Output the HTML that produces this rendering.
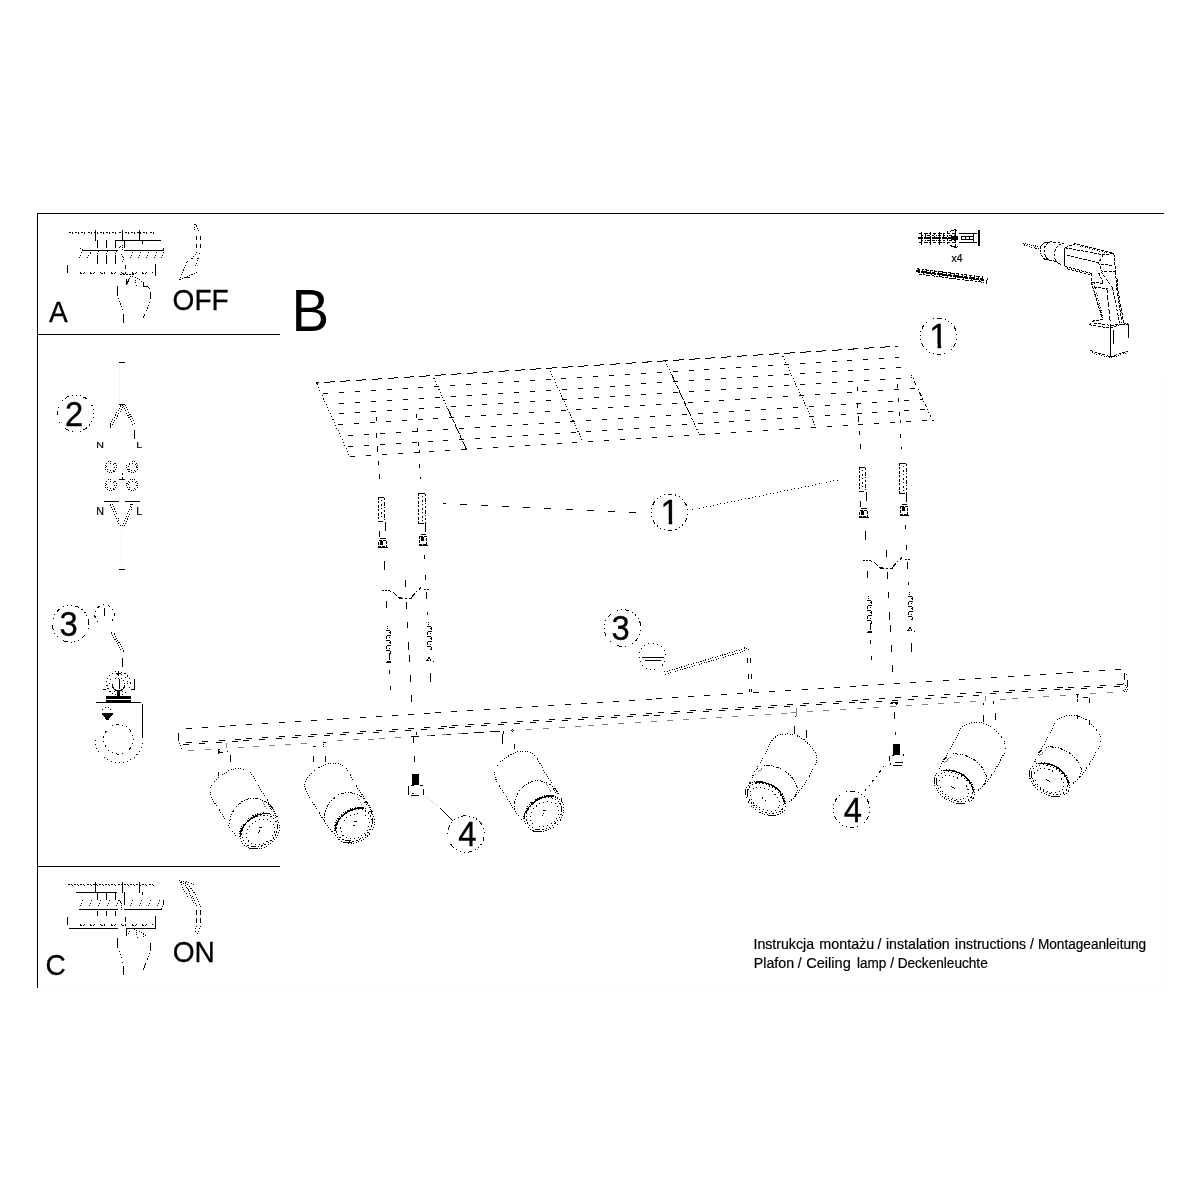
<!DOCTYPE html>
<html lang="pl">
<head>
<meta charset="utf-8">
<title>Instrukcja montażu</title>
<style>
html,body{margin:0;padding:0;background:#fff;}
body{width:1200px;height:1200px;overflow:hidden;position:relative;}
svg{position:absolute;left:0;top:0;display:block;will-change:transform;}
text{font-family:"Liberation Sans",sans-serif;fill:#000;stroke:none;}
.sm text,text.sm{stroke:#000;stroke-width:0.2;}
text.dg{stroke:#000;stroke-width:0.35;}
text.lb{stroke:#000;stroke-width:0.3;}
svg g{stroke:#000;stroke-width:1;fill:none;shape-rendering:crispEdges;}
.dt{stroke-dasharray:1 1.5;}
.dd{stroke-dasharray:1 2;}
.gr{stroke:#808080;}
.bk{fill:#000;stroke:none;}
.th{stroke-width:2;}
</style>
</head>
<body>
<svg width="1200" height="1200" viewBox="0 0 1200 1200">
<g id="frame">
<line x1="37" y1="213.5" x2="1164" y2="213.5"/>
<line x1="37.5" y1="213" x2="37.5" y2="988"/>
<line x1="37" y1="334.5" x2="280" y2="334.5"/>
<line x1="37" y1="866.5" x2="280" y2="866.5"/>
<line x1="1164.5" y1="375" x2="1164.5" y2="988" stroke="#fbfbfb"/>
<line x1="38" y1="987.5" x2="1164" y2="987.5" stroke="#fbfbfb"/>
</g>
<g id="labels">
<text transform="translate(48.93 321.7) scale(0.95 1)" font-size="29.6" class="lb">A</text>
<text transform="translate(172.56 310) scale(0.95 1)" font-size="29.6" class="lb">OFF</text>
<text transform="translate(291.48 330.6) scale(0.96 1)" font-size="58.8">B</text>
<text transform="translate(45.56 974.7) scale(0.95 1)" font-size="29.6" class="lb">C</text>
<text transform="translate(172.7 962) scale(0.95 1)" font-size="29.6" class="lb">ON</text>
<text transform="translate(753.47 948.75) scale(1.02 1)" font-size="13.9" class="sm">Instrukcja</text>
<text transform="translate(819.32 948.75) scale(1.03 1)" font-size="13.9" class="sm">montażu</text>
<text transform="translate(877.43 948.75) scale(1 1)" font-size="13.9" class="sm">/</text>
<text transform="translate(885.98 948.75) scale(1.02 1)" font-size="13.9" class="sm">instalation</text>
<text transform="translate(955.09 948.75) scale(1.01 1)" font-size="13.9" class="sm">instructions</text>
<text transform="translate(1029.93 948.75) scale(1 1)" font-size="13.9" class="sm">/</text>
<text transform="translate(1037.91 948.75) scale(0.98 1)" font-size="13.9" class="sm">Montageanleitung</text>
<text transform="translate(753.87 967.9) scale(1.02 1)" font-size="13.9" class="sm">Plafon</text>
<text transform="translate(797.73 967.9) scale(1 1)" font-size="13.9" class="sm">/</text>
<text transform="translate(806.17 967.9) scale(1.05 1)" font-size="13.9" class="sm">Ceiling</text>
<text transform="translate(856.98 967.9) scale(0.97 1)" font-size="13.9" class="sm">lamp</text>
<text transform="translate(890.35 967.9) scale(1 1)" font-size="13.9" class="sm">/</text>
<text transform="translate(897.66 967.9) scale(0.98 1)" font-size="13.9" class="sm">Deckenleuchte</text>
</g>
<g id="callouts">
<circle cx="938.5" cy="336.3" r="18.3" stroke-dasharray="4.5 3 1 3 1 3 1 3" stroke-dashoffset="-26"/>
<clipPath id="c938"><path d="M927.3 314 h20 v30 h-6.2 v5 h-3.5 v-5 h-10.3 Z"/></clipPath>
<g clip-path="url(#c938)"><text transform="translate(929.3 348) scale(1 1.04)" font-size="33.6" class="dg">1</text></g>
<circle cx="669.5" cy="512.3" r="18.3" stroke-dasharray="4.5 3 1 3 1 3 1 3" stroke-dashoffset="-6"/>
<clipPath id="c669"><path d="M658.4 490 h20 v30 h-6.2 v5 h-3.5 v-5 h-10.3 Z"/></clipPath>
<g clip-path="url(#c669)"><text transform="translate(660.4 524) scale(1 1.04)" font-size="33.6" class="dg">1</text></g>
<circle cx="75.5" cy="413.4" r="18.3" stroke-dasharray="4.5 3 1 3 1 3 1 3" stroke-dashoffset="-16"/>
<text transform="translate(64.92 426) scale(0.95 1)" font-size="34.5" class="dg">2</text>
<circle cx="70.5" cy="623.8" r="18.3" stroke-dasharray="4.5 3 1 3 1 3 1 3" stroke-dashoffset="-12"/>
<text transform="translate(59.44 636.4) scale(0.95 1)" font-size="34.5" class="dg">3</text>
<circle cx="622.6" cy="628" r="18.3" stroke-dasharray="4.5 3 1 3 1 3 1 3" stroke-dashoffset="-10"/>
<text transform="translate(611.59 640.1) scale(0.95 1)" font-size="34.5" class="dg">3</text>
<circle cx="466" cy="834" r="18.3" stroke-dasharray="4.5 3 1 3 1 3 1 3" stroke-dashoffset="-3"/>
<text transform="translate(458.34 846) scale(0.95 1)" font-size="34.5" class="dg">4</text>
<circle cx="851.5" cy="809.3" r="18.3" stroke-dasharray="4.5 3 1 3 1 3 1 3" stroke-dashoffset="-26"/>
<text transform="translate(843.79 822) scale(0.95 1)" font-size="34.5" class="dg">4</text>
</g>
<g id="plate">
<line x1="316.3" y1="382.9" x2="898" y2="346.2" stroke-dasharray="10.4 5.5" stroke-dashoffset="8"/>
<path d="M323 393.5h5M339 392.5h5M355 391.5h5M371 390.5h5M387 389.5h5M403 388.5h5M418 387.5h5M434 386.5h5M450 385.5h5M466 384.5h5M482 383.5h5M498 382.5h5M514 381.5h5M530 380.5h5M546 379.5h5M561 378.5h5M577 377.5h5M593 376.5h5M609 375.5h5M625 374.5h5M641 373.5h5M657 372.5h5M673 371.5h5M689 370.5h5M704 369.5h5M720 368.5h5M736 367.5h5M752 366.5h5M768 365.5h5M784 364.5h5M800 363.5h5M816 362.5h5M832 361.5h5M847 360.5h5M863 359.5h5M879 358.5h5M895 357.5h4"/>
<path d="M339 403.5h5M355 402.5h5M371 401.5h5M387 400.5h5M403 399.5h5M419 398.5h5M435 397.5h5M451 396.5h5M467 395.5h5M482 394.5h5M498 393.5h5M514 392.5h5M530 391.5h5M546 390.5h5M562 389.5h5M578 388.5h5M594 387.5h5M610 386.5h5M625 385.5h5M641 383.5h5M657 382.5h5M673 381.5h5M689 380.5h5M705 379.5h5M721 378.5h5M737 377.5h5M753 376.5h5M768 375.5h5M784 374.5h5M800 373.5h5M816 372.5h5M832 371.5h5M848 370.5h5M864 369.5h5M880 368.5h5M896 367.5h5"/>
<path d="M339 413.5h5M355 412.5h5M371 411.5h5M387 410.5h5M403 409.5h5M419 408.5h5M435 407.5h5M451 406.5h5M467 405.5h5M482 404.5h5M498 403.5h5M514 402.5h5M530 401.5h5M546 400.5h5M562 399.5h5M578 398.5h5M594 397.5h5M610 396.5h5M625 395.5h5M641 394.5h5M657 393.5h5M673 392.5h5M689 391.5h5M705 390.5h5M721 389.5h5M737 388.5h5M753 387.5h5M768 386.5h5M784 385.5h5M800 384.5h5M816 383.5h5M832 382.5h5M848 381.5h5M864 380.5h5M880 379.5h5M896 378.5h5M911 377.5h1"/>
<path d="M338 424.5h5M354 423.5h5M370 422.5h5M386 421.5h5M402 420.5h5M418 419.5h5M433 418.5h5M449 417.5h5M465 416.5h5M481 415.5h5M497 414.5h5M513 413.5h5M529 412.5h5M545 411.5h5M561 410.5h5M576 409.5h5M592 408.5h5M608 407.5h5M624 406.5h5M640 405.5h5M656 404.5h5M672 403.5h5M688 402.5h5M704 401.5h5M719 400.5h5M735 399.5h5M751 398.5h5M767 397.5h5M783 396.5h5M799 395.5h5M815 394.5h5M831 393.5h5M847 392.5h5M862 391.5h5M878 390.5h5M894 389.5h5M910 388.5h5"/>
<path d="M348 435.5h5M364 434.5h5M380 433.5h5M396 432.5h5M412 431.5h5M427 430.5h5M443 429.5h5M459 428.5h5M475 427.5h5M491 426.5h5M507 425.5h5M523 424.5h5M539 423.5h5M555 422.5h5M570 421.5h5M586 420.5h5M602 419.5h5M618 418.5h5M634 417.5h5M650 416.5h5M666 415.5h5M682 414.5h5M698 413.5h5M713 412.5h5M729 411.5h5M745 410.5h5M761 409.5h5M777 408.5h5M793 407.5h5M809 406.5h5M825 405.5h5M841 404.5h5M856 403.5h5M872 402.5h5M888 401.5h5M904 400.5h5M920 399.5h3"/>
<path d="M348 446.5h5M364 445.5h5M380 444.5h5M396 443.5h5M412 442.5h5M428 441.5h5M443 440.5h5M459 439.5h5M475 438.5h5M491 437.5h5M507 436.5h5M523 435.5h5M539 434.5h5M555 433.5h5M571 432.5h5M586 431.5h5M602 430.5h5M618 429.5h5M634 428.5h5M650 427.5h5M666 425.5h5M682 424.5h5M698 423.5h5M714 422.5h5M729 421.5h5M745 420.5h5M761 419.5h5M777 418.5h5M793 417.5h5M809 416.5h5M825 415.5h5M841 414.5h5M857 413.5h5M872 412.5h5M888 411.5h5M904 410.5h5M920 409.5h5"/>
<path d="M350 456.5h5M366 455.5h5M382 454.5h5M398 453.5h5M414 452.5h5M429 451.5h5M445 450.5h5M461 449.5h5M477 448.5h5M493 447.5h5M509 446.5h5M525 445.5h5M541 444.5h5M557 443.5h5M572 442.5h5M588 441.5h5M604 440.5h5M620 439.5h5M636 438.5h5M652 437.5h5M668 436.5h5M684 435.5h5M700 434.5h5M715 433.5h5M731 432.5h5M747 431.5h5M763 430.5h5M779 429.5h5M795 428.5h5M811 427.5h5M827 426.5h5M843 425.5h5M858 424.5h5M874 423.5h5M890 422.5h5M906 421.5h5M922 420.5h5"/>
<line x1="316.8" y1="383.9" x2="350" y2="457" stroke-dasharray="1 2.2"/>
<line x1="432.64" y1="375.56" x2="466.5" y2="449.64" stroke-dasharray="1 2"/>
<line x1="447.88" y1="408.9" x2="466.5" y2="449.64" stroke-dasharray="9 3 4 2"/>
<line x1="548.98" y1="368.22" x2="583" y2="442.28" stroke-dasharray="1 2"/>
<line x1="665.32" y1="360.88" x2="699.5" y2="434.92" stroke-dasharray="1 2"/>
<line x1="671.47" y1="374.21" x2="692.66" y2="420.11" stroke-dasharray="9 3 4 2"/>
<line x1="781.66" y1="353.54" x2="816" y2="427.56" stroke-dasharray="1 2"/>
<line x1="911.46" y1="375.06" x2="930.77" y2="416.5" stroke-dasharray="1 2.2 1 2.2 4 2.2"/>
<line x1="931.5" y1="420.5" x2="933.5" y2="420.5"/>
<rect x="316" y="382" width="2.4" height="2" class="bk"/>
</g>
<g id="bar">
<path d="M186 728.5h6M202 727.5h6M219 726.5h6M230 725.5h6M246 724.5h6M262 723.5h6M279 722.5h6M295 721.5h6M311 720.5h6M327 719.5h6M343 718.5h6M360 717.5h6M376 716.5h6M392 715.5h6M408 714.5h6M424 713.5h6M435 712.5h6M451 711.5h6M467 710.5h6M484 709.5h6M500 708.5h6M516 707.5h6M532 706.5h6M548 705.5h6M565 704.5h6M581 703.5h6M597 702.5h6M613 701.5h6M629 700.5h6M646 699.5h6M656 698.5h6M672 697.5h6M688 696.5h6M704 695.5h6M721 694.5h6M737 693.5h6M753 692.5h6M769 691.5h6M785 690.5h6M802 689.5h6M818 688.5h6M834 687.5h6M850 686.5h6M862 685.5h6M878 684.5h6M894 683.5h6M910 682.5h6M926 681.5h6M943 680.5h6M959 679.5h6M975 678.5h6M991 677.5h6M1008 676.5h6M1024 675.5h6M1040 674.5h6M1056 673.5h6M1067 672.5h6M1083 671.5h6M1099 670.5h6M1115 669.5h6"/>
<path d="M186 742.5h6M202 741.5h6M219 740.5h6M235 739.5h6M246 738.5h6M262 737.5h6M279 736.5h6M295 735.5h6M311 734.5h6M327 733.5h6M343 732.5h6M360 731.5h6M376 730.5h6M392 729.5h6M408 728.5h6M424 727.5h6M441 726.5h6M452 725.5h6M468 724.5h6M484 723.5h6M501 722.5h6M517 721.5h6M533 720.5h6M549 719.5h6M565 718.5h6M582 717.5h6M598 716.5h6M614 715.5h6M630 714.5h6M646 713.5h6M658 712.5h6M674 711.5h6M690 710.5h6M706 709.5h6M722 708.5h6M738 707.5h6M755 706.5h6M771 705.5h6M787 704.5h6M803 703.5h6M820 702.5h6M836 701.5h6M852 700.5h6M863 699.5h6M879 698.5h6M895 697.5h6M912 696.5h6M928 695.5h6M944 694.5h6M960 693.5h6M976 692.5h6M993 691.5h6M1009 690.5h6M1025 689.5h6M1041 688.5h6M1057 687.5h6M1068 687.5h6M1084 686.5h6M1100 685.5h6M1117 684.5h6"/>
<path d="M183 744.5h6M199 743.5h6M216 742.5h6M232 741.5h6M243 740.5h6M259 739.5h6M276 738.5h6M292 737.5h6M308 736.5h6M324 735.5h6M340 734.5h6M357 733.5h6M373 732.5h6M389 731.5h6M405 730.5h6M421 729.5h6M438 728.5h6M449 727.5h6M465 726.5h6M481 725.5h6M498 724.5h6M514 723.5h6M530 722.5h6M546 721.5h6M562 720.5h6M578 719.5h6M595 718.5h6M611 717.5h6M627 716.5h6M643 715.5h6M654 715.5h6M671 713.5h6M687 712.5h6M703 711.5h6M719 710.5h6M735 709.5h6M752 708.5h6M768 707.5h6M784 706.5h6M800 705.5h6M816 704.5h6M833 703.5h6M849 702.5h6M860 702.5h6M876 701.5h6M892 700.5h6M908 699.5h6M925 698.5h6M941 697.5h6M957 696.5h6M973 695.5h6M990 693.5h6M1006 692.5h6M1022 691.5h6M1038 690.5h6M1054 689.5h6M1065 689.5h6M1081 688.5h6M1097 687.5h6M1114 686.5h6"/>
<path d="M188 750.5h6M205 749.5h6M238 747.5h6M253 746.5h6M269 745.5h6M285 744.5h6M301 743.5h6M337 740.5h6M353 739.5h6M368 739.5h6M379 738.5h6M395 737.5h6M427 735.5h6M442 734.5h6M458 733.5h6M526 729.5h6M543 728.5h6M559 727.5h6M575 726.5h6M588 725.5h6M602 724.5h6M618 723.5h6M635 722.5h6M651 721.5h6M667 720.5h6M683 719.5h6M700 718.5h6M716 717.5h6M732 716.5h6M748 715.5h6M765 714.5h6M781 713.5h6M807 711.5h6M823 710.5h6M840 709.5h6M857 708.5h6M873 707.5h6M890 706.5h6M906 705.5h6M922 704.5h6M938 703.5h6M954 702.5h6M970 701.5h6M1000 699.5h6M1012 698.5h6M1028 697.5h6M1043 696.5h6M1060 695.5h6M1090 693.5h6M1107 692.5h6" class="gr"/>
<path d="M474 732.5h10M490 731.5h10"/>
<path d="M431 735.5h4M447 734.5h4"/>
<path d="M462 733.5h6"/>
<line x1="178.5" y1="733" x2="178.5" y2="740.5"/>
<path d="M179.5 743 L180.5 746 L182.5 749.5 L184 750.5" stroke-dasharray="1 1.5"/>
<line x1="1124.5" y1="673" x2="1124.5" y2="680"/>
<line x1="1127.5" y1="680" x2="1127.5" y2="686.5"/>
<line x1="1126.5" y1="674" x2="1126.5" y2="675"/>
<path d="M1123.5 683.5 L1126 686.5 L1127.5 690" stroke-dasharray="1 1.2"/>
<path d="M1127 687 L1124 690.5 L1123 691.5 L1127 691.5" stroke-dasharray="1 1.2"/>
</g>
<g id="wires">
<g>
<line x1="376.5" y1="417" x2="376.5" y2="421"/>
<line x1="376.5" y1="433" x2="376.5" y2="437.5"/>
<line x1="377.5" y1="446" x2="377.5" y2="452"/>
<line x1="378.5" y1="461" x2="378.5" y2="465"/>
<line x1="379.5" y1="474" x2="379.5" y2="479"/>
<line x1="385.5" y1="522" x2="385.5" y2="531"/>
<line x1="379.5" y1="531" x2="379.5" y2="537"/>
<line x1="384.5" y1="561" x2="384.5" y2="570"/>
<line x1="386.5" y1="601" x2="386.5" y2="607.5"/>
<line x1="389.5" y1="670" x2="389.5" y2="674"/>
<line x1="390.5" y1="686" x2="390.5" y2="690"/>
<line x1="378.5" y1="497" x2="378.5" y2="522" stroke-dasharray="3 1 2 2"/>
<line x1="384.5" y1="498" x2="384.5" y2="522" stroke-dasharray="2 2 4 1 1 2"/>
<line x1="381.5" y1="500" x2="381.5" y2="520" stroke-dasharray="1 3 2 2"/>
<line x1="379" y1="497.5" x2="384" y2="497.5"/>
<line x1="378" y1="521.5" x2="383" y2="521.5"/>
<path d="M378.5 540.5 h8 v6 h-8 Z" stroke-dasharray="3 1"/>
<line x1="378" y1="547.5" x2="388" y2="547.5"/>
<line x1="380" y1="538.5" x2="386" y2="538.5"/>
<rect x="380" y="541" width="3" height="4" class="bk"/>
<path d="M386 630.5h4M390.5 631v3M387 635.5h4M386.5 636v3M386 640.5h4M390.5 641v3M387 645.5h4M386.5 646v3M386 650.5h4M390.5 651v3"/>
<line x1="387.5" y1="626" x2="387.5" y2="627"/>
<line x1="387.5" y1="628" x2="387.5" y2="629"/>
<line x1="389.5" y1="632" x2="389.5" y2="655" stroke-dasharray="1 4.2"/>
<line x1="389.5" y1="653" x2="389.5" y2="660"/>
<path d="M386 663 h5 v-1.5 l-3 -1 Z" class="bk"/>
<line x1="416.5" y1="414" x2="416.5" y2="418"/>
<line x1="417.5" y1="428" x2="417.5" y2="432"/>
<line x1="418.5" y1="442" x2="418.5" y2="446"/>
<line x1="419.5" y1="450" x2="419.5" y2="453"/>
<line x1="419.5" y1="464" x2="419.5" y2="468"/>
<line x1="420.5" y1="477" x2="420.5" y2="479"/>
<line x1="425.5" y1="524" x2="425.5" y2="532"/>
<line x1="424.5" y1="555" x2="424.5" y2="559"/>
<line x1="425.5" y1="575" x2="425.5" y2="580"/>
<line x1="426.5" y1="592" x2="426.5" y2="598.5"/>
<line x1="427.5" y1="612" x2="427.5" y2="615"/>
<line x1="430.5" y1="673" x2="430.5" y2="682"/>
<line x1="418.5" y1="493" x2="418.5" y2="524" stroke-dasharray="3 1 2 2"/>
<line x1="425.5" y1="494" x2="425.5" y2="524" stroke-dasharray="2 2 4 1 1 2"/>
<line x1="422" y1="496" x2="422" y2="522" stroke-dasharray="1 3 2 2"/>
<line x1="419" y1="493.5" x2="425" y2="493.5"/>
<line x1="418" y1="523.5" x2="424" y2="523.5"/>
<path d="M419.5 536.5 h7 v8 h-7 Z" stroke-dasharray="3 1"/>
<line x1="419" y1="545.5" x2="428" y2="545.5"/>
<line x1="421" y1="534.5" x2="426" y2="534.5"/>
<rect x="421" y="537" width="3" height="4" class="bk"/>
<path d="M427 626.5h4M431.5 627v3M428 631.5h4M427.5 632v3M427 636.5h4M431.5 637v3M428 641.5h4M427.5 642v3M427 646.5h4M431.5 647v3"/>
<line x1="428.5" y1="622" x2="428.5" y2="623"/>
<line x1="428.5" y1="624" x2="428.5" y2="625"/>
<line x1="430.5" y1="628" x2="430.5" y2="653" stroke-dasharray="1 4.2"/>
<path d="M426.5 661 l2.5 -3.5 l2 3.5 M433 661 h1" />
<line x1="427" y1="660.5" x2="429" y2="660.5"/>
<line x1="405.5" y1="580" x2="405.5" y2="586.5"/>
<line x1="406.5" y1="602" x2="406.5" y2="608.5"/>
<line x1="407.5" y1="622" x2="407.5" y2="627.5"/>
<line x1="408.5" y1="642" x2="408.5" y2="650"/>
<line x1="409.5" y1="655" x2="409.5" y2="662"/>
<line x1="410.5" y1="675" x2="410.5" y2="682"/>
<line x1="411.5" y1="695" x2="411.5" y2="702"/>
<path d="M382 590.5 L388 590.5" stroke-dasharray="2 1"/>
<path d="M388 590 L394 593 L399 598" stroke-dasharray="3 1 1 1"/>
<path d="M399 598.5 L412 598.5" stroke-dasharray="4 2 2 2"/>
<path d="M411 598 L416 592 L421 587.5" stroke-dasharray="1 1"/>
<path d="M413 596 L418 590 L422 587" stroke-dasharray="1 1.5"/>
<line x1="424" y1="589.5" x2="429" y2="589.5" stroke-dasharray="2 1"/>
<path d="M398 596.5 h5 l-4 3 Z" class="bk"/>
<rect x="411.5" y="774" width="7.5" height="11" class="bk"/>
</g>
<g transform="translate(481 -30)">
<line x1="376.5" y1="417" x2="376.5" y2="421"/>
<line x1="376.5" y1="433" x2="376.5" y2="437.5"/>
<line x1="377.5" y1="446" x2="377.5" y2="452"/>
<line x1="378.5" y1="461" x2="378.5" y2="465"/>
<line x1="379.5" y1="474" x2="379.5" y2="479"/>
<line x1="385.5" y1="522" x2="385.5" y2="531"/>
<line x1="379.5" y1="531" x2="379.5" y2="537"/>
<line x1="384.5" y1="561" x2="384.5" y2="570"/>
<line x1="386.5" y1="601" x2="386.5" y2="607.5"/>
<line x1="389.5" y1="670" x2="389.5" y2="674"/>
<line x1="390.5" y1="686" x2="390.5" y2="690"/>
<line x1="378.5" y1="497" x2="378.5" y2="522" stroke-dasharray="3 1 2 2"/>
<line x1="384.5" y1="498" x2="384.5" y2="522" stroke-dasharray="2 2 4 1 1 2"/>
<line x1="381.5" y1="500" x2="381.5" y2="520" stroke-dasharray="1 3 2 2"/>
<line x1="379" y1="497.5" x2="384" y2="497.5"/>
<line x1="378" y1="521.5" x2="383" y2="521.5"/>
<path d="M378.5 540.5 h8 v6 h-8 Z" stroke-dasharray="3 1"/>
<line x1="378" y1="547.5" x2="388" y2="547.5"/>
<line x1="380" y1="538.5" x2="386" y2="538.5"/>
<rect x="380" y="541" width="3" height="4" class="bk"/>
<path d="M386 630.5h4M390.5 631v3M387 635.5h4M386.5 636v3M386 640.5h4M390.5 641v3M387 645.5h4M386.5 646v3M386 650.5h4M390.5 651v3"/>
<line x1="387.5" y1="626" x2="387.5" y2="627"/>
<line x1="387.5" y1="628" x2="387.5" y2="629"/>
<line x1="389.5" y1="632" x2="389.5" y2="655" stroke-dasharray="1 4.2"/>
<line x1="389.5" y1="653" x2="389.5" y2="660"/>
<path d="M386 663 h5 v-1.5 l-3 -1 Z" class="bk"/>
<line x1="416.5" y1="414" x2="416.5" y2="418"/>
<line x1="417.5" y1="428" x2="417.5" y2="432"/>
<line x1="418.5" y1="442" x2="418.5" y2="446"/>
<line x1="419.5" y1="450" x2="419.5" y2="453"/>
<line x1="419.5" y1="464" x2="419.5" y2="468"/>
<line x1="420.5" y1="477" x2="420.5" y2="479"/>
<line x1="425.5" y1="524" x2="425.5" y2="532"/>
<line x1="424.5" y1="555" x2="424.5" y2="559"/>
<line x1="425.5" y1="575" x2="425.5" y2="580"/>
<line x1="426.5" y1="592" x2="426.5" y2="598.5"/>
<line x1="427.5" y1="612" x2="427.5" y2="615"/>
<line x1="430.5" y1="673" x2="430.5" y2="682"/>
<line x1="418.5" y1="493" x2="418.5" y2="524" stroke-dasharray="3 1 2 2"/>
<line x1="425.5" y1="494" x2="425.5" y2="524" stroke-dasharray="2 2 4 1 1 2"/>
<line x1="422" y1="496" x2="422" y2="522" stroke-dasharray="1 3 2 2"/>
<line x1="419" y1="493.5" x2="425" y2="493.5"/>
<line x1="418" y1="523.5" x2="424" y2="523.5"/>
<path d="M419.5 536.5 h7 v8 h-7 Z" stroke-dasharray="3 1"/>
<line x1="419" y1="545.5" x2="428" y2="545.5"/>
<line x1="421" y1="534.5" x2="426" y2="534.5"/>
<rect x="421" y="537" width="3" height="4" class="bk"/>
<path d="M427 626.5h4M431.5 627v3M428 631.5h4M427.5 632v3M427 636.5h4M431.5 637v3M428 641.5h4M427.5 642v3M427 646.5h4M431.5 647v3"/>
<line x1="428.5" y1="622" x2="428.5" y2="623"/>
<line x1="428.5" y1="624" x2="428.5" y2="625"/>
<line x1="430.5" y1="628" x2="430.5" y2="653" stroke-dasharray="1 4.2"/>
<path d="M426.5 661 l2.5 -3.5 l2 3.5 M433 661 h1" />
<line x1="427" y1="660.5" x2="429" y2="660.5"/>
<line x1="405.5" y1="580" x2="405.5" y2="586.5"/>
<line x1="406.5" y1="602" x2="406.5" y2="608.5"/>
<line x1="407.5" y1="622" x2="407.5" y2="627.5"/>
<line x1="408.5" y1="642" x2="408.5" y2="650"/>
<line x1="409.5" y1="655" x2="409.5" y2="662"/>
<line x1="410.5" y1="675" x2="410.5" y2="682"/>
<line x1="411.5" y1="695" x2="411.5" y2="702"/>
<path d="M382 590.5 L388 590.5" stroke-dasharray="2 1"/>
<path d="M388 590 L394 593 L399 598" stroke-dasharray="3 1 1 1"/>
<path d="M399 598.5 L412 598.5" stroke-dasharray="4 2 2 2"/>
<path d="M411 598 L416 592 L421 587.5" stroke-dasharray="1 1"/>
<path d="M413 596 L418 590 L422 587" stroke-dasharray="1 1.5"/>
<line x1="424" y1="589.5" x2="429" y2="589.5" stroke-dasharray="2 1"/>
<path d="M398 596.5 h5 l-4 3 Z" class="bk"/>
<rect x="411.5" y="774" width="7.5" height="11" class="bk"/>
</g>
<line x1="411" y1="736.5" x2="419" y2="736.5"/>
<line x1="416.5" y1="732" x2="416.5" y2="735"/>
<line x1="413.5" y1="737" x2="413.5" y2="742.5"/>
<line x1="414.5" y1="756" x2="414.5" y2="762"/>
<path d="M408.5 786 v9 M411 795.5 h8 M412 793.5 h2 M423.5 789 v6 M411 785.5 h3 M420 785.5 h3" />
<line x1="891" y1="702.5" x2="898" y2="702.5"/>
<line x1="890" y1="703.5" x2="893" y2="703.5"/>
<path d="M894 703 h4 l-2 2 Z" class="bk"/>
<line x1="894.5" y1="712" x2="894.5" y2="718.5"/>
<line x1="895.5" y1="732" x2="895.5" y2="735"/>
<path d="M889.5 756 v5 M890.5 763 v2 M893 765.5 h9 M895 762.5 h8 M892 755.5 h2 M903.5 754 v2" />
</g>
<g id="spots">
<g transform="translate(0 0)"><path d="M237.5 837.5 C236.25 835.83 232.5 831.25 230 827.5 C227.5 823.75 225.21 819.38 222.5 815 C219.79 810.62 215.79 805 213.75 801.25 C211.71 797.5 210.81 794.62 210.25 792.5 C209.69 790.38 209.93 790.07 210.4 788.5 C210.88 786.93 211.5 785.14 213.1 783.1 C214.7 781.06 217.18 778.39 220 776.25 C222.82 774.11 227.42 771.46 230 770.25 C232.58 769.04 233.42 769.17 235.5 769 C237.58 768.83 240.29 768.78 242.5 769.2 C244.71 769.62 246.98 770.33 248.75 771.5 C250.52 772.67 251.22 773.38 253.1 776.25 C254.97 779.12 257.39 784.38 260 788.75 C262.61 793.12 266.04 797.92 268.75 802.5 C271.46 807.08 274.48 812.92 276.25 816.25 C278.02 819.58 278.88 821.46 279.4 822.5" stroke-dasharray="1 1.5"/><path d="M229.75 826.5 C229.79 825.42 229.54 822.33 230 820 C230.46 817.67 231.46 814.68 232.5 812.5 C233.54 810.32 234.38 808.88 236.25 806.9 C238.12 804.92 241.04 802.07 243.75 800.6 C246.46 799.13 249.79 798.3 252.5 798.1 C255.21 797.9 257.5 798.57 260 799.4 C262.5 800.23 265.21 801.33 267.5 803.1 C269.79 804.87 272.08 807.6 273.75 810 C275.42 812.4 276.88 816.25 277.5 817.5" stroke-dasharray="1 1.5 1 1.5 3 1.5"/><ellipse rx="21.2" ry="16.6" transform="translate(259.6 831) rotate(-32)" stroke-dasharray="1 1.6"/><ellipse rx="19" ry="14.6" transform="translate(259.6 831) rotate(-32)" stroke-dasharray="1.5 2"/><ellipse rx="15.2" ry="11.6" transform="translate(260.4 831.8) rotate(-32)" stroke-dasharray="1 3"/><path d="M240.5 831 C240.85 830.42 241.6 828.92 242.6 827.5 C243.6 826.08 244.93 824.02 246.5 822.5 C248.07 820.98 250.08 819.65 252 818.4 C253.92 817.15 256.17 815.75 258 815 C259.83 814.25 261.08 814.08 263 813.9 C264.92 813.72 268.42 813.9 269.5 813.9"/><path d="M247 821.4 C247.83 820.77 250.17 818.77 252 817.6 C253.83 816.43 257 814.93 258 814.4"/><path d="M262 813.4 C262.67 813.37 264.75 813.2 266 813.2 C267.25 813.2 268.92 813.37 269.5 813.4"/><path d="M240.5 836.5 L240.5 831"/><path d="M241.5 832 L243.5 826"/><line x1="249" y1="848.5" x2="257.5" y2="848.5"/><line x1="252" y1="846.5" x2="256" y2="846.5"/><line x1="277.5" y1="823.5" x2="277.5" y2="828"/><path d="M258 833 L260 830" stroke-dasharray="1 1"/><line x1="259" y1="827.5" x2="262" y2="827.5"/><path d="M262 801 L267 810" stroke-dasharray="1 1" class="gr"/><path d="M269 806 L272 811" stroke-dasharray="1 1"/></g>
<g transform="translate(94.7 -5.6)"><path d="M237.5 837.5 C236.25 835.83 232.5 831.25 230 827.5 C227.5 823.75 225.21 819.38 222.5 815 C219.79 810.62 215.79 805 213.75 801.25 C211.71 797.5 210.81 794.62 210.25 792.5 C209.69 790.38 209.93 790.07 210.4 788.5 C210.88 786.93 211.5 785.14 213.1 783.1 C214.7 781.06 217.18 778.39 220 776.25 C222.82 774.11 227.42 771.46 230 770.25 C232.58 769.04 233.42 769.17 235.5 769 C237.58 768.83 240.29 768.78 242.5 769.2 C244.71 769.62 246.98 770.33 248.75 771.5 C250.52 772.67 251.22 773.38 253.1 776.25 C254.97 779.12 257.39 784.38 260 788.75 C262.61 793.12 266.04 797.92 268.75 802.5 C271.46 807.08 274.48 812.92 276.25 816.25 C278.02 819.58 278.88 821.46 279.4 822.5" stroke-dasharray="1 1.5"/><path d="M229.75 826.5 C229.79 825.42 229.54 822.33 230 820 C230.46 817.67 231.46 814.68 232.5 812.5 C233.54 810.32 234.38 808.88 236.25 806.9 C238.12 804.92 241.04 802.07 243.75 800.6 C246.46 799.13 249.79 798.3 252.5 798.1 C255.21 797.9 257.5 798.57 260 799.4 C262.5 800.23 265.21 801.33 267.5 803.1 C269.79 804.87 272.08 807.6 273.75 810 C275.42 812.4 276.88 816.25 277.5 817.5" stroke-dasharray="1 1.5 1 1.5 3 1.5"/><ellipse rx="21.2" ry="16.6" transform="translate(259.6 831) rotate(-32)" stroke-dasharray="1 1.6"/><ellipse rx="19" ry="14.6" transform="translate(259.6 831) rotate(-32)" stroke-dasharray="1.5 2"/><ellipse rx="15.2" ry="11.6" transform="translate(260.4 831.8) rotate(-32)" stroke-dasharray="1 3"/><path d="M240.5 831 C240.85 830.42 241.6 828.92 242.6 827.5 C243.6 826.08 244.93 824.02 246.5 822.5 C248.07 820.98 250.08 819.65 252 818.4 C253.92 817.15 256.17 815.75 258 815 C259.83 814.25 261.08 814.08 263 813.9 C264.92 813.72 268.42 813.9 269.5 813.9"/><path d="M247 821.4 C247.83 820.77 250.17 818.77 252 817.6 C253.83 816.43 257 814.93 258 814.4"/><path d="M262 813.4 C262.67 813.37 264.75 813.2 266 813.2 C267.25 813.2 268.92 813.37 269.5 813.4"/><path d="M240.5 836.5 L240.5 831"/><path d="M241.5 832 L243.5 826"/><line x1="249" y1="848.5" x2="257.5" y2="848.5"/><line x1="252" y1="846.5" x2="256" y2="846.5"/><line x1="277.5" y1="823.5" x2="277.5" y2="828"/><path d="M258 833 L260 830" stroke-dasharray="1 1"/><line x1="259" y1="827.5" x2="262" y2="827.5"/><path d="M262 801 L267 810" stroke-dasharray="1 1" class="gr"/><path d="M269 806 L272 811" stroke-dasharray="1 1"/></g>
<g transform="translate(284.3 -17.4)"><path d="M237.5 837.5 C236.25 835.83 232.5 831.25 230 827.5 C227.5 823.75 225.21 819.38 222.5 815 C219.79 810.62 215.79 805 213.75 801.25 C211.71 797.5 210.81 794.62 210.25 792.5 C209.69 790.38 209.93 790.07 210.4 788.5 C210.88 786.93 211.5 785.14 213.1 783.1 C214.7 781.06 217.18 778.39 220 776.25 C222.82 774.11 227.42 771.46 230 770.25 C232.58 769.04 233.42 769.17 235.5 769 C237.58 768.83 240.29 768.78 242.5 769.2 C244.71 769.62 246.98 770.33 248.75 771.5 C250.52 772.67 251.22 773.38 253.1 776.25 C254.97 779.12 257.39 784.38 260 788.75 C262.61 793.12 266.04 797.92 268.75 802.5 C271.46 807.08 274.48 812.92 276.25 816.25 C278.02 819.58 278.88 821.46 279.4 822.5" stroke-dasharray="1 1.5"/><path d="M229.75 826.5 C229.79 825.42 229.54 822.33 230 820 C230.46 817.67 231.46 814.68 232.5 812.5 C233.54 810.32 234.38 808.88 236.25 806.9 C238.12 804.92 241.04 802.07 243.75 800.6 C246.46 799.13 249.79 798.3 252.5 798.1 C255.21 797.9 257.5 798.57 260 799.4 C262.5 800.23 265.21 801.33 267.5 803.1 C269.79 804.87 272.08 807.6 273.75 810 C275.42 812.4 276.88 816.25 277.5 817.5" stroke-dasharray="1 1.5 1 1.5 3 1.5"/><ellipse rx="21.2" ry="16.6" transform="translate(259.6 831) rotate(-32)" stroke-dasharray="1 1.6"/><ellipse rx="19" ry="14.6" transform="translate(259.6 831) rotate(-32)" stroke-dasharray="1.5 2"/><ellipse rx="15.2" ry="11.6" transform="translate(260.4 831.8) rotate(-32)" stroke-dasharray="1 3"/><path d="M240.5 831 C240.85 830.42 241.6 828.92 242.6 827.5 C243.6 826.08 244.93 824.02 246.5 822.5 C248.07 820.98 250.08 819.65 252 818.4 C253.92 817.15 256.17 815.75 258 815 C259.83 814.25 261.08 814.08 263 813.9 C264.92 813.72 268.42 813.9 269.5 813.9"/><path d="M247 821.4 C247.83 820.77 250.17 818.77 252 817.6 C253.83 816.43 257 814.93 258 814.4"/><path d="M262 813.4 C262.67 813.37 264.75 813.2 266 813.2 C267.25 813.2 268.92 813.37 269.5 813.4"/><path d="M240.5 836.5 L240.5 831"/><path d="M241.5 832 L243.5 826"/><line x1="249" y1="848.5" x2="257.5" y2="848.5"/><line x1="252" y1="846.5" x2="256" y2="846.5"/><line x1="277.5" y1="823.5" x2="277.5" y2="828"/><path d="M258 833 L260 830" stroke-dasharray="1 1"/><line x1="259" y1="827.5" x2="262" y2="827.5"/><path d="M262 801 L267 810" stroke-dasharray="1 1" class="gr"/><path d="M269 806 L272 811" stroke-dasharray="1 1"/></g>
<g transform="translate(-188.9 11.6)"><path d="M938.75 771.25 C939.58 769.38 941.67 763.96 943.75 760 C945.83 756.04 948.75 752.08 951.25 747.5 C953.75 742.92 956.96 735.83 958.75 732.5 C960.54 729.17 960.75 728.85 962 727.5 C963.25 726.15 964.29 725.23 966.25 724.4 C968.21 723.57 971.04 722.72 973.75 722.5 C976.46 722.28 979.58 722.37 982.5 723.1 C985.42 723.83 988.54 725.12 991.25 726.9 C993.96 728.67 996.56 731.25 998.75 733.75 C1000.94 736.25 1003.32 739.19 1004.4 741.9 C1005.48 744.61 1005.93 746.77 1005.2 750 C1004.47 753.23 1002.12 757.29 1000 761.25 C997.88 765.21 994.79 770.21 992.5 773.75 C990.21 777.29 988.12 780.21 986.25 782.5 C984.38 784.79 982.79 786 981.25 787.5 C979.71 789 977.71 790.83 977 791.5" stroke-dasharray="1 1.5"/><path d="M950.5 754.2 C951.17 754.15 952.5 753.81 954.5 753.9 C956.5 753.99 959.5 753.94 962.5 754.75 C965.5 755.56 969.58 757.04 972.5 758.75 C975.42 760.46 977.92 762.71 980 765 C982.08 767.29 983.96 770.21 985 772.5 C986.04 774.79 986.46 776.67 986.25 778.75 C986.04 780.83 984.17 783.96 983.75 785" stroke-dasharray="1 1.5 1 1.5 3 1.5"/><ellipse rx="22" ry="14.8" transform="translate(954.5 786.8) rotate(31)" stroke-dasharray="1 1.6"/><ellipse rx="19.8" ry="12.8" transform="translate(954.5 786.8) rotate(31)" stroke-dasharray="1.5 2"/><ellipse rx="16" ry="10.2" transform="translate(953.7 787.6) rotate(31)" stroke-dasharray="1 3"/><path d="M944.4 771 C945.5 770.98 948.73 770.63 951 770.9 C953.27 771.17 955.75 771.68 958 772.6 C960.25 773.52 962.67 775.03 964.5 776.4 C966.33 777.77 967.82 779.28 969 780.8 C970.18 782.32 971.17 784.72 971.6 785.5"/><path d="M944.4 770.2 C945.33 770.2 948.23 770.03 950 770.2 C951.77 770.37 954.17 771.03 955 771.2"/><path d="M960 773 C960.83 773.5 963.5 774.83 965 776 C966.5 777.17 968.33 779.33 969 780"/><path d="M972.5 786 L973.5 792"/><line x1="957" y1="803.5" x2="965" y2="803.5"/><line x1="934.5" y1="777" x2="934.5" y2="783"/><line x1="936.5" y1="778" x2="936.5" y2="784"/><path d="M951 786 L956 790" stroke-dasharray="1 1"/><path d="M943 760 L948 756" stroke-dasharray="1 1"/><path d="M944 763 L951 757" stroke-dasharray="1 1" class="gr"/></g>
<g transform="translate(0 0)"><path d="M938.75 771.25 C939.58 769.38 941.67 763.96 943.75 760 C945.83 756.04 948.75 752.08 951.25 747.5 C953.75 742.92 956.96 735.83 958.75 732.5 C960.54 729.17 960.75 728.85 962 727.5 C963.25 726.15 964.29 725.23 966.25 724.4 C968.21 723.57 971.04 722.72 973.75 722.5 C976.46 722.28 979.58 722.37 982.5 723.1 C985.42 723.83 988.54 725.12 991.25 726.9 C993.96 728.67 996.56 731.25 998.75 733.75 C1000.94 736.25 1003.32 739.19 1004.4 741.9 C1005.48 744.61 1005.93 746.77 1005.2 750 C1004.47 753.23 1002.12 757.29 1000 761.25 C997.88 765.21 994.79 770.21 992.5 773.75 C990.21 777.29 988.12 780.21 986.25 782.5 C984.38 784.79 982.79 786 981.25 787.5 C979.71 789 977.71 790.83 977 791.5" stroke-dasharray="1 1.5"/><path d="M950.5 754.2 C951.17 754.15 952.5 753.81 954.5 753.9 C956.5 753.99 959.5 753.94 962.5 754.75 C965.5 755.56 969.58 757.04 972.5 758.75 C975.42 760.46 977.92 762.71 980 765 C982.08 767.29 983.96 770.21 985 772.5 C986.04 774.79 986.46 776.67 986.25 778.75 C986.04 780.83 984.17 783.96 983.75 785" stroke-dasharray="1 1.5 1 1.5 3 1.5"/><ellipse rx="22" ry="14.8" transform="translate(954.5 786.8) rotate(31)" stroke-dasharray="1 1.6"/><ellipse rx="19.8" ry="12.8" transform="translate(954.5 786.8) rotate(31)" stroke-dasharray="1.5 2"/><ellipse rx="16" ry="10.2" transform="translate(953.7 787.6) rotate(31)" stroke-dasharray="1 3"/><path d="M944.4 771 C945.5 770.98 948.73 770.63 951 770.9 C953.27 771.17 955.75 771.68 958 772.6 C960.25 773.52 962.67 775.03 964.5 776.4 C966.33 777.77 967.82 779.28 969 780.8 C970.18 782.32 971.17 784.72 971.6 785.5"/><path d="M944.4 770.2 C945.33 770.2 948.23 770.03 950 770.2 C951.77 770.37 954.17 771.03 955 771.2"/><path d="M960 773 C960.83 773.5 963.5 774.83 965 776 C966.5 777.17 968.33 779.33 969 780"/><path d="M972.5 786 L973.5 792"/><line x1="957" y1="803.5" x2="965" y2="803.5"/><line x1="934.5" y1="777" x2="934.5" y2="783"/><line x1="936.5" y1="778" x2="936.5" y2="784"/><path d="M951 786 L956 790" stroke-dasharray="1 1"/><path d="M943 760 L948 756" stroke-dasharray="1 1"/><path d="M944 763 L951 757" stroke-dasharray="1 1" class="gr"/></g>
<g transform="translate(95.1 -7)"><path d="M938.75 771.25 C939.58 769.38 941.67 763.96 943.75 760 C945.83 756.04 948.75 752.08 951.25 747.5 C953.75 742.92 956.96 735.83 958.75 732.5 C960.54 729.17 960.75 728.85 962 727.5 C963.25 726.15 964.29 725.23 966.25 724.4 C968.21 723.57 971.04 722.72 973.75 722.5 C976.46 722.28 979.58 722.37 982.5 723.1 C985.42 723.83 988.54 725.12 991.25 726.9 C993.96 728.67 996.56 731.25 998.75 733.75 C1000.94 736.25 1003.32 739.19 1004.4 741.9 C1005.48 744.61 1005.93 746.77 1005.2 750 C1004.47 753.23 1002.12 757.29 1000 761.25 C997.88 765.21 994.79 770.21 992.5 773.75 C990.21 777.29 988.12 780.21 986.25 782.5 C984.38 784.79 982.79 786 981.25 787.5 C979.71 789 977.71 790.83 977 791.5" stroke-dasharray="1 1.5"/><path d="M950.5 754.2 C951.17 754.15 952.5 753.81 954.5 753.9 C956.5 753.99 959.5 753.94 962.5 754.75 C965.5 755.56 969.58 757.04 972.5 758.75 C975.42 760.46 977.92 762.71 980 765 C982.08 767.29 983.96 770.21 985 772.5 C986.04 774.79 986.46 776.67 986.25 778.75 C986.04 780.83 984.17 783.96 983.75 785" stroke-dasharray="1 1.5 1 1.5 3 1.5"/><ellipse rx="22" ry="14.8" transform="translate(954.5 786.8) rotate(31)" stroke-dasharray="1 1.6"/><ellipse rx="19.8" ry="12.8" transform="translate(954.5 786.8) rotate(31)" stroke-dasharray="1.5 2"/><ellipse rx="16" ry="10.2" transform="translate(953.7 787.6) rotate(31)" stroke-dasharray="1 3"/><path d="M944.4 771 C945.5 770.98 948.73 770.63 951 770.9 C953.27 771.17 955.75 771.68 958 772.6 C960.25 773.52 962.67 775.03 964.5 776.4 C966.33 777.77 967.82 779.28 969 780.8 C970.18 782.32 971.17 784.72 971.6 785.5"/><path d="M944.4 770.2 C945.33 770.2 948.23 770.03 950 770.2 C951.77 770.37 954.17 771.03 955 771.2"/><path d="M960 773 C960.83 773.5 963.5 774.83 965 776 C966.5 777.17 968.33 779.33 969 780"/><path d="M972.5 786 L973.5 792"/><line x1="957" y1="803.5" x2="965" y2="803.5"/><line x1="934.5" y1="777" x2="934.5" y2="783"/><line x1="936.5" y1="778" x2="936.5" y2="784"/><path d="M951 786 L956 790" stroke-dasharray="1 1"/><path d="M943 760 L948 756" stroke-dasharray="1 1"/><path d="M944 763 L951 757" stroke-dasharray="1 1" class="gr"/></g>
<line x1="218.5" y1="749" x2="218.5" y2="754"/>
<line x1="218.5" y1="772" x2="218.5" y2="776"/>
<line x1="219.5" y1="749" x2="219.5" y2="753" stroke-dasharray="1 1"/>
<line x1="230.5" y1="755" x2="230.5" y2="762"/>
<line x1="226.5" y1="743" x2="226.5" y2="748" class="gr"/>
<line x1="219" y1="752.5" x2="223" y2="752.5"/>
<line x1="227" y1="751.5" x2="229" y2="751.5" stroke-dasharray="1 1"/>
<line x1="313.5" y1="756" x2="313.5" y2="762"/>
<line x1="325.5" y1="756" x2="325.5" y2="762"/>
<line x1="313" y1="746.5" x2="316" y2="746.5"/>
<line x1="323.5" y1="742" x2="323.5" y2="747" stroke-dasharray="1 1"/>
<line x1="324" y1="742.5" x2="326" y2="742.5"/>
<line x1="502.5" y1="734" x2="502.5" y2="743.5"/>
<line x1="514.5" y1="744" x2="514.5" y2="749"/>
<line x1="503.5" y1="731" x2="503.5" y2="733.5"/>
<line x1="512.5" y1="729" x2="512.5" y2="733" stroke-dasharray="1 1"/>
<line x1="511" y1="730.5" x2="514" y2="730.5" stroke-dasharray="1 1"/>
<line x1="794.5" y1="726" x2="794.5" y2="733.5"/>
<line x1="806.5" y1="729.5" x2="806.5" y2="737.5"/>
<line x1="796.5" y1="707.5" x2="796.5" y2="715.5" class="gr"/>
<line x1="791" y1="712.5" x2="796" y2="712.5" class="gr"/>
<line x1="795.5" y1="716" x2="795.5" y2="718" stroke-dasharray="1 1"/>
<line x1="983.5" y1="715" x2="983.5" y2="722"/>
<line x1="995.5" y1="713" x2="995.5" y2="720"/>
<line x1="985.5" y1="696" x2="985.5" y2="701" class="gr"/>
<line x1="983.5" y1="703" x2="983.5" y2="705"/>
<line x1="993.5" y1="701" x2="993.5" y2="704"/>
<line x1="1076" y1="694.5" x2="1078.5" y2="694.5"/>
<line x1="1077.5" y1="695" x2="1077.5" y2="697.5"/>
<line x1="1077.5" y1="699" x2="1077.5" y2="702"/>
<line x1="1077.5" y1="715" x2="1077.5" y2="718.5"/>
<line x1="1089.5" y1="697.5" x2="1089.5" y2="702.5"/>
<line x1="1089.5" y1="720" x2="1089.5" y2="725"/>
<line x1="1083" y1="697.5" x2="1088" y2="697.5"/>
</g>
<g id="leaders">
<line x1="442.5" y1="503.8" x2="640" y2="513.2" stroke-dasharray="7 14.2" stroke-dashoffset="4"/>
<line x1="692" y1="509.8" x2="838" y2="480" stroke-dasharray="1 2.6"/>
<line x1="440" y1="808" x2="453.5" y2="821.4"/>
<line x1="425" y1="796" x2="439" y2="807" stroke="#e8e8e8"/>
<line x1="884" y1="766.5" x2="863" y2="793.5" stroke-dasharray="1 4.2 2.5 4.2"/>
<circle cx="652.5" cy="656.5" r="13.1" stroke-dasharray="1 3.4"/>
<line x1="642" y1="657.5" x2="664" y2="657.5"/>
<line x1="644.5" y1="660.5" x2="660.5" y2="660.5"/>
<line x1="664.5" y1="672" x2="746.5" y2="648" stroke-dasharray="1 1.5"/>
<line x1="665.3" y1="674.2" x2="747.3" y2="650.2" stroke-dasharray="1 1.5"/>
<path d="M744 647.5 L748 649 L749.5 651.5" stroke-dasharray="1 1"/>
<line x1="747.5" y1="658" x2="747.5" y2="663"/>
<line x1="750.5" y1="658" x2="750.5" y2="663"/>
<line x1="748.5" y1="674" x2="748.5" y2="679"/>
<line x1="751.5" y1="674" x2="751.5" y2="679"/>
<line x1="749.5" y1="689" x2="749.5" y2="692"/>
<line x1="751.5" y1="689" x2="751.5" y2="692"/>
</g>
<g id="tools">
<path d="M918 238 H957" stroke-width="2" stroke-dasharray="5 1 7 1 9 1"/>
<path d="M919 233.5 H957 M919 242.5 H957" stroke-dasharray="3 2 4 1 2 2"/>
<path d="M921 235.5 H956 M921 240.5 H956" stroke-dasharray="2 2 1 1 3 2"/>
<path d="M921.5 232 V245 M930.5 232 V245 M939.5 232 V245 M947.5 231 V245" stroke-dasharray="3 1 2 1"/>
<path d="M925.5 234 V243 M934.5 234 V243 M943.5 234 V243" stroke-dasharray="1 1"/>
<path d="M950 231.5 l5 -2 l2 1 M950 245.5 l6 2 l2 -1"/>
<path d="M955.5 229 V247" stroke-dasharray="4 1"/>
<rect x="951" y="236" width="6.5" height="4.2" class="bk"/>
<path d="M958.5 233.5 H977 M958.5 242.5 H977 M961 236.5 H973 M961 239.5 H973 M961.5 236 V240 M965.5 236 V240 M969.5 236 V240 M973.5 233 V243"/>
<path d="M978.7 230 V246" stroke-width="2.4"/>
<text transform="translate(951.6 262) scale(0.9 1)" font-size="11.5" class="sm">x4</text>
<g transform="translate(916.5 268.2) rotate(7.2)"><path d="M0 3 H68" stroke-width="2.2" stroke-dasharray="4 1 6 1 3 1"/><path d="M1 0.5 H66 M3 5.6 H69" stroke-dasharray="3 1.5 2 1 4 1.5"/><path d="M2 0 l2.5 6 M6 0 l2.5 6 M10 0 l2.5 6 M14 0 l2.5 6 M18 0 l2.5 6 M22 0 l2.5 6 M26 0 l2.5 6 M30 0 l2.5 6 M34 0 l2.5 6 M38 0 l2.5 6 M42 0 l2.5 6 M46 0 l2.5 6 M50 0 l2.5 6 M54 0 l2.5 6 M58 0 l2.5 6 M62 0 l2.5 6 M66 0 l2.5 6" stroke-dasharray="2 1"/><path d="M71.5 1 V7"/></g>
<path d="M1023.42 243.67 L1027.5 244.25 L1039.17 247.17" stroke-dasharray="1 1"/>
<path d="M1024 244.83 L1028.67 246.58 L1038 248.33" stroke-dasharray="1 1.5"/>
<path d="M1035.08 245.42 L1035.08 248.92 L1039.17 248.92" stroke-dasharray="2 1"/>
<path d="M1045 242.5 C1044.42 242.99 1042.32 244.15 1041.5 245.42 C1040.68 246.68 1040.1 248.43 1040.1 250.08 C1040.1 251.74 1040.68 253.78 1041.5 255.33 C1042.32 256.89 1044.42 258.74 1045 259.42" stroke-dasharray="2 1"/>
<path d="M1048.5 242.5 C1047.92 243.18 1045.74 245.13 1045 246.58 C1044.26 248.04 1043.97 249.6 1044.07 251.25 C1044.16 252.9 1044.84 255.04 1045.58 256.5 C1046.32 257.96 1048.01 259.42 1048.5 260" stroke-dasharray="3 1.2"/>
<path d="M1061.33 243.67 C1060.56 244.25 1057.83 245.42 1056.67 247.17 C1055.5 248.92 1054.43 251.83 1054.33 254.17 C1054.24 256.5 1054.92 259.42 1056.08 261.17 C1057.25 262.92 1060.46 264.08 1061.33 264.67" stroke-dasharray="3 1.2"/>
<path d="M1045 242.5 L1050.83 241.92 L1063.67 243.43" stroke-dasharray="3 1.2"/>
<path d="M1045 259.65 L1053.17 260.58 L1061.33 264.67" stroke-dasharray="3 1.2"/>
<path d="M1064.83 247.75 L1064.83 266.42"/>
<path d="M1064.83 247.75 L1075.33 243.67 L1113.83 253.58" stroke-dasharray="3 1.2"/>
<path d="M1064.83 247.75 L1103.33 254.75 L1113.83 253.58" stroke-dasharray="3 1.2"/>
<path d="M1067.17 255.33 L1098.67 262.92" stroke-dasharray="3 1.2"/>
<path d="M1064.83 266.42 L1091.67 273.42" stroke-dasharray="3 1.2"/>
<path d="M1067.17 268.75 L1090.5 274.58" stroke-dasharray="3 1.2"/>
<path d="M1103.33 254.75 L1098.67 262.92 L1102.17 271.67 L1115.58 271.67" stroke-dasharray="3 1.2"/>
<path d="M1113.83 253.58 L1115.58 271.67" stroke-dasharray="3 1.2"/>
<path d="M1101 264.67 L1113.83 265.25" stroke-dasharray="3 1.2"/>
<path d="M1075.33 243.67 L1080 246 L1106.83 253" stroke-dasharray="1 1.5"/>
<path d="M1091.67 273.42 L1091.67 283.33 L1102.17 318.33" stroke-dasharray="3 1.2"/>
<path d="M1094 283.33 L1103.33 319.5" stroke-dasharray="1 1.5"/>
<path d="M1115.58 271.67 L1116.75 288 L1122 323" stroke-dasharray="3 1.2"/>
<path d="M1117.33 278.67 L1117.92 290.33 L1123.75 323" stroke-dasharray="3 1.2"/>
<path d="M1106.83 288 L1110.33 323" stroke-dasharray="5 2"/>
<path d="M1112.67 288 L1119.67 323" stroke-dasharray="3 1.2"/>
<path d="M1091.67 282.17 L1103.33 283.33" stroke-dasharray="3 1.2"/>
<path d="M1094 287.42 L1108 288.58" stroke-dasharray="3 1.2"/>
<path d="M1101 271.67 L1112.67 288" stroke-dasharray="3 1.2"/>
<path d="M1098.67 272.83 L1103.33 283.33" stroke-dasharray="3 1.2"/>
<path d="M1089.33 324.75 L1094 320.67 L1103.33 319.5" stroke-dasharray="3 1.2"/>
<path d="M1089.33 324.75 L1110.33 328.25 L1119.67 324.75 L1128.42 324.17" stroke-dasharray="3 1.2"/>
<path d="M1094 323 L1110.33 325.33 L1127.83 323.58" stroke-dasharray="3 1.2"/>
<path d="M1110.33 324.17 L1110.33 356.83"/>
<path d="M1113.25 330 L1113.25 344"/>
<path d="M1128.42 324.17 L1128.42 337.58"/>
<path d="M1090.5 350.42 L1110.33 356.83 L1127.83 351" stroke-dasharray="3 1.2"/>
<path d="M1091.67 352.75 L1110.33 358 L1126.67 352.75" stroke-dasharray="1 1.5"/>
<path d="M1109.17 356.83 L1115 356.83"/>
</g>
<g id="panels">
<line x1="69" y1="232.5" x2="155" y2="232.5" stroke-dasharray="2 1 1 2.2"/>
<line x1="72" y1="233.5" x2="154" y2="233.5" stroke-dasharray="1 5.2"/>
<line x1="95.5" y1="229.5" x2="95.5" y2="241"/>
<line x1="122.5" y1="229.5" x2="122.5" y2="241"/>
<line x1="139.5" y1="229.5" x2="139.5" y2="241"/>
<line x1="115" y1="240.5" x2="161" y2="240.5"/>
<line x1="97.5" y1="240" x2="97.5" y2="248"/>
<line x1="97.5" y1="255" x2="97.5" y2="264"/>
<line x1="106.5" y1="240" x2="106.5" y2="248"/>
<line x1="106.5" y1="255" x2="106.5" y2="264"/>
<line x1="115.5" y1="240" x2="115.5" y2="248"/>
<line x1="115.5" y1="255" x2="115.5" y2="264"/>
<line x1="124.5" y1="240" x2="124.5" y2="248"/>
<line x1="142.5" y1="241" x2="142.5" y2="244"/>
<line x1="82" y1="250.5" x2="118" y2="250.5"/>
<line x1="124" y1="250.5" x2="164" y2="250.5"/>
<line x1="163.5" y1="248" x2="163.5" y2="251"/>
<path d="M80 248.5 L83 249.5" stroke-dasharray="1 1"/>
<line x1="82" y1="252.5" x2="79" y2="258" stroke-dasharray="1 1.6"/>
<line x1="90.5" y1="252.5" x2="87.5" y2="258" stroke-dasharray="1 1.6"/>
<line x1="133" y1="252.5" x2="130" y2="258" stroke-dasharray="1 1.6"/>
<line x1="141" y1="252.5" x2="138" y2="258" stroke-dasharray="1 1.6"/>
<line x1="149" y1="252.5" x2="146" y2="258" stroke-dasharray="1 1.6"/>
<line x1="157" y1="252.5" x2="154" y2="258" stroke-dasharray="1 1.6"/>
<line x1="164" y1="252.5" x2="161" y2="258" stroke-dasharray="1 1.6"/>
<line x1="99" y1="251.5" x2="97" y2="255" stroke-dasharray="1 1"/>
<line x1="108" y1="251.5" x2="106" y2="255" stroke-dasharray="1 1"/>
<line x1="117" y1="251.5" x2="115" y2="255" stroke-dasharray="1 1"/>
<path d="M119 248 L122 245 L123 251 L121 255 L124 258 L122 262" stroke-dasharray="1 1"/>
<line x1="67.5" y1="265" x2="67.5" y2="273"/>
<line x1="155.5" y1="264" x2="155.5" y2="276"/>
<line x1="125.5" y1="265" x2="125.5" y2="269"/>
<line x1="80" y1="273.5" x2="153" y2="273.5" stroke-dasharray="2 1 1 6.4"/>
<line x1="79.5" y1="272.5" x2="153" y2="272.5" stroke-dasharray="1 3 1 5.4"/>
<line x1="120" y1="274.5" x2="134" y2="274.5" stroke-dasharray="2 1"/>
<line x1="126.5" y1="285" x2="129.5" y2="278"/>
<line x1="126.5" y1="279" x2="126.5" y2="285"/>
<path d="M130 276 L135 277 L140 280 L143 283" stroke-dasharray="1 1.5"/>
<path d="M135 280 L137 286" stroke-dasharray="1 1.5"/>
<path d="M143.5 282 L143.5 286.5 L147.5 286.5 L150 289"/>
<line x1="117.5" y1="286" x2="117.5" y2="296"/>
<line x1="118" y1="298" x2="123" y2="311" stroke-dasharray="1 2"/>
<line x1="123.5" y1="314" x2="123.5" y2="323"/>
<line x1="150.5" y1="292" x2="150.5" y2="299"/>
<line x1="150" y1="302" x2="146" y2="312" stroke-dasharray="1 2"/>
<line x1="145" y1="314" x2="143" y2="318"/>
<path d="M194.5 224.5 L196.5 225 L197.5 228 L198.5 232" stroke-dasharray="1 1.5"/>
<path d="M194 227 L195 231" stroke-dasharray="1 1.5"/>
<line x1="196.5" y1="236" x2="196.5" y2="240"/>
<line x1="200.5" y1="236" x2="200.5" y2="240"/>
<line x1="196.5" y1="244" x2="196.5" y2="248"/>
<line x1="200.5" y1="244" x2="200.5" y2="248"/>
<path d="M197 252 L193 258 L187 262.5" stroke-dasharray="1 1.6"/>
<path d="M200 253 L197.5 260 L194 268" stroke-dasharray="1 1.6"/>
<path d="M187 262.5 L183 271 L179.5 279.5" stroke-dasharray="1 1.6"/>
<path d="M179.5 279.5 L186 277.5 L198.5 271.5" stroke-dasharray="1 1.6"/>
<line x1="185" y1="277.5" x2="190" y2="277.5"/>
<line x1="119" y1="362.5" x2="125" y2="362.5"/>
<line x1="119.5" y1="364" x2="119.5" y2="403" stroke="#f4f4f4"/>
<line x1="119" y1="404.5" x2="125" y2="404.5"/>
<line x1="120" y1="405.5" x2="124" y2="405.5" stroke-dasharray="1 1"/>
<line x1="121" y1="406" x2="110" y2="424" stroke-dasharray="1 1.5"/>
<line x1="123" y1="407" x2="112" y2="425" stroke-dasharray="1 1.5"/>
<line x1="110.5" y1="424" x2="110.5" y2="428"/>
<line x1="123" y1="406" x2="133" y2="425" stroke-dasharray="1 1.5"/>
<line x1="125" y1="405" x2="135" y2="424" stroke-dasharray="1 1.5"/>
<line x1="134.5" y1="430" x2="134.5" y2="439"/>
<text transform="translate(96.19 447.7) scale(1.12 1)" font-size="9.5" class="sm">N</text>
<text transform="translate(136.28 447.7) scale(1.12 1)" font-size="9.5" class="sm">L</text>
<circle cx="110.8" cy="467" r="5.6" stroke-dasharray="1 1.3"/>
<circle cx="110.8" cy="467" r="4" stroke-dasharray="1 2"/>
<circle cx="132.2" cy="467" r="5.6" stroke-dasharray="1 1.3"/>
<circle cx="132.2" cy="467" r="4" stroke-dasharray="1 2"/>
<circle cx="110.8" cy="485" r="5.6" stroke-dasharray="1 1.3"/>
<circle cx="110.8" cy="485" r="4" stroke-dasharray="1 2"/>
<circle cx="132.4" cy="485" r="5.6" stroke-dasharray="1 1.3"/>
<circle cx="132.4" cy="485" r="4" stroke-dasharray="1 2"/>
<line x1="119" y1="479.5" x2="125" y2="479.5"/>
<line x1="122.5" y1="473" x2="122.5" y2="475"/>
<line x1="122.5" y1="477" x2="122.5" y2="479"/>
<line x1="104" y1="501.5" x2="119" y2="501.5"/>
<line x1="125" y1="501.5" x2="140" y2="501.5"/>
<text transform="translate(96.17 514.7) scale(1.04 1)" font-size="10.3" class="sm">N</text>
<text transform="translate(136.26 514.7) scale(1.04 1)" font-size="10.3" class="sm">L</text>
<line x1="110.5" y1="504.5" x2="119.3" y2="526.5" stroke-dasharray="1 1.5"/>
<line x1="112.3" y1="504" x2="121.1" y2="526" stroke-dasharray="1 1.5"/>
<line x1="133" y1="504.5" x2="124.5" y2="526.5" stroke-dasharray="1 1.5"/>
<line x1="131.2" y1="504" x2="122.7" y2="526" stroke-dasharray="1 1.5"/>
<line x1="121.5" y1="530" x2="121.5" y2="567" stroke="#f4f4f4"/>
<line x1="119" y1="569.5" x2="125" y2="569.5"/>
<path d="M97.8 621.6 A9.7 9.7 0 1 1 111.6 621.2" stroke-dasharray="1 3.4 3 3.4"/>
<line x1="104.5" y1="608" x2="104.5" y2="616"/>
<line x1="111.2" y1="632.6" x2="122.8" y2="653.4" stroke-dasharray="1 1.4"/>
<line x1="112.9" y1="631.6" x2="124.5" y2="652.4" stroke-dasharray="1 1.4"/>
<line x1="122.5" y1="658" x2="122.5" y2="667"/>
<circle cx="118.5" cy="683.3" r="11.7" stroke-dasharray="1 2.4"/>
<circle cx="118.5" cy="683.3" r="9" stroke-dasharray="1 3.5"/>
<path d="M112.1 684.5 A6.4 6.4 0 0 0 124.9 684.5"/>
<path d="M112.1 684.5 A6.4 6.4 0 0 1 124.9 684.5" stroke-dasharray="1 2"/>
<line x1="118.5" y1="672" x2="118.5" y2="676"/>
<line x1="119.5" y1="678.5" x2="119.5" y2="689"/>
<line x1="116" y1="673.5" x2="122" y2="673.5" stroke-dasharray="2 1"/>
<rect x="117" y="690.5" width="3" height="6" class="bk"/>
<path d="M131 689.5 L134.5 689.5 L134.5 679"/>
<line x1="103" y1="689.5" x2="106" y2="689.5"/>
<rect x="106" y="696.2" width="25" height="2.3" class="bk"/>
<rect x="106" y="699.8" width="25" height="2.8" class="bk"/>
<line x1="96" y1="702.5" x2="141" y2="702.5"/>
<line x1="142.5" y1="704" x2="142.5" y2="738"/>
<path d="M95.2 740 A23.4 21.6 0 0 0 142.4 741.5" stroke-dasharray="1 3"/>
<circle cx="118.5" cy="739.3" r="14.8" stroke-dasharray="1 3.2 1 3.2 3 3.2"/>
<path d="M102 713.4 h11 v1.8 h-11 Z M103 715.2 h9 l-3.6 4.6 h-2 Z" class="bk"/>
<path d="M102.5 709.5 L105 707.5 L109 707.5 L111.5 710" stroke-dasharray="1 2"/>
<line x1="68" y1="884.5" x2="155" y2="884.5" stroke-dasharray="2 1 1 2.2"/>
<line x1="72" y1="885.5" x2="154" y2="885.5" stroke-dasharray="1 5.2"/>
<line x1="95.5" y1="882" x2="95.5" y2="892.5"/>
<line x1="122.5" y1="882" x2="122.5" y2="892.5"/>
<line x1="139.5" y1="882" x2="139.5" y2="892.5"/>
<line x1="142.5" y1="892" x2="142.5" y2="895"/>
<line x1="76" y1="892.5" x2="116.5" y2="892.5"/>
<line x1="97.5" y1="892.5" x2="97.5" y2="900"/>
<line x1="97.5" y1="911" x2="97.5" y2="916"/>
<line x1="106.5" y1="892.5" x2="106.5" y2="900"/>
<line x1="106.5" y1="911" x2="106.5" y2="916"/>
<line x1="115.5" y1="892.5" x2="115.5" y2="900"/>
<line x1="115.5" y1="911" x2="115.5" y2="916"/>
<line x1="124.5" y1="892" x2="124.5" y2="905"/>
<line x1="83" y1="900.5" x2="80" y2="907" stroke-dasharray="1 1.6"/>
<line x1="92" y1="900.5" x2="89" y2="907" stroke-dasharray="1 1.6"/>
<line x1="101" y1="900.5" x2="98" y2="907" stroke-dasharray="1 1.6"/>
<line x1="110" y1="900.5" x2="107" y2="907" stroke-dasharray="1 1.6"/>
<line x1="119" y1="900.5" x2="116" y2="907" stroke-dasharray="1 1.6"/>
<line x1="133" y1="900.5" x2="130" y2="907" stroke-dasharray="1 1.6"/>
<line x1="142" y1="900.5" x2="139" y2="907" stroke-dasharray="1 1.6"/>
<line x1="151" y1="900.5" x2="148" y2="907" stroke-dasharray="1 1.6"/>
<line x1="160" y1="900.5" x2="157" y2="907" stroke-dasharray="1 1.6"/>
<line x1="79" y1="909.5" x2="118" y2="909.5"/>
<line x1="124" y1="909.5" x2="162" y2="909.5"/>
<line x1="163.5" y1="900" x2="163.5" y2="905"/>
<path d="M163 906 L161.5 909" stroke-dasharray="1 1"/>
<path d="M119 900 L122 904 L121 909 L123 913" stroke-dasharray="1 1"/>
<line x1="67.5" y1="917" x2="67.5" y2="925"/>
<line x1="155.5" y1="916" x2="155.5" y2="928"/>
<line x1="125.5" y1="917" x2="125.5" y2="922"/>
<line x1="80" y1="925.5" x2="153" y2="925.5" stroke-dasharray="2 1 1 6.4"/>
<line x1="79.5" y1="924.5" x2="153" y2="924.5" stroke-dasharray="1 3 1 5.4"/>
<line x1="69" y1="928.5" x2="118" y2="928.5"/>
<line x1="126" y1="928.5" x2="156" y2="928.5"/>
<line x1="126.5" y1="928" x2="126.5" y2="936"/>
<path d="M128 934 L130 930" stroke-dasharray="1 1"/>
<path d="M134 929 L139 931 L143 934 L148 937" stroke-dasharray="1 1.6"/>
<path d="M136 932 L137.5 938" stroke-dasharray="1 1.5"/>
<path d="M143.5 933 L144 938" stroke-dasharray="1 1.5"/>
<line x1="117.5" y1="938" x2="117.5" y2="947.5"/>
<line x1="119" y1="951" x2="123" y2="963" stroke-dasharray="1 2"/>
<line x1="123.5" y1="966" x2="123.5" y2="975"/>
<line x1="150.5" y1="943" x2="150.5" y2="950.5"/>
<line x1="150" y1="953" x2="147" y2="960" stroke-dasharray="1 2"/>
<line x1="146" y1="963" x2="143" y2="970"/>
<path d="M179 880 L184 884 L190 892 L195 901 L197.5 908" stroke-dasharray="1 1.6"/>
<path d="M183 881 L189 886 L195 894 L199 903 L200.5 908" stroke-dasharray="1 1.6"/>
<path d="M180 882 L184 890 L188 897" stroke-dasharray="1 1.6"/>
<path d="M186 881.5 L192 884 L197 886.5" stroke-dasharray="1 1.6"/>
<path d="M187 888 L191 896 L194 903" stroke-dasharray="1 1.6"/>
<line x1="196.5" y1="910" x2="196.5" y2="915"/>
<line x1="200.5" y1="910" x2="200.5" y2="915"/>
<line x1="196.5" y1="918" x2="196.5" y2="923"/>
<line x1="200.5" y1="918" x2="200.5" y2="923"/>
<path d="M196.5 926 L195.5 930 L194.5 934" stroke-dasharray="1 1.6"/>
<path d="M200.5 926 L199 930 L197 934" stroke-dasharray="1 1.6"/>
</g>
</svg>
</body>
</html>
